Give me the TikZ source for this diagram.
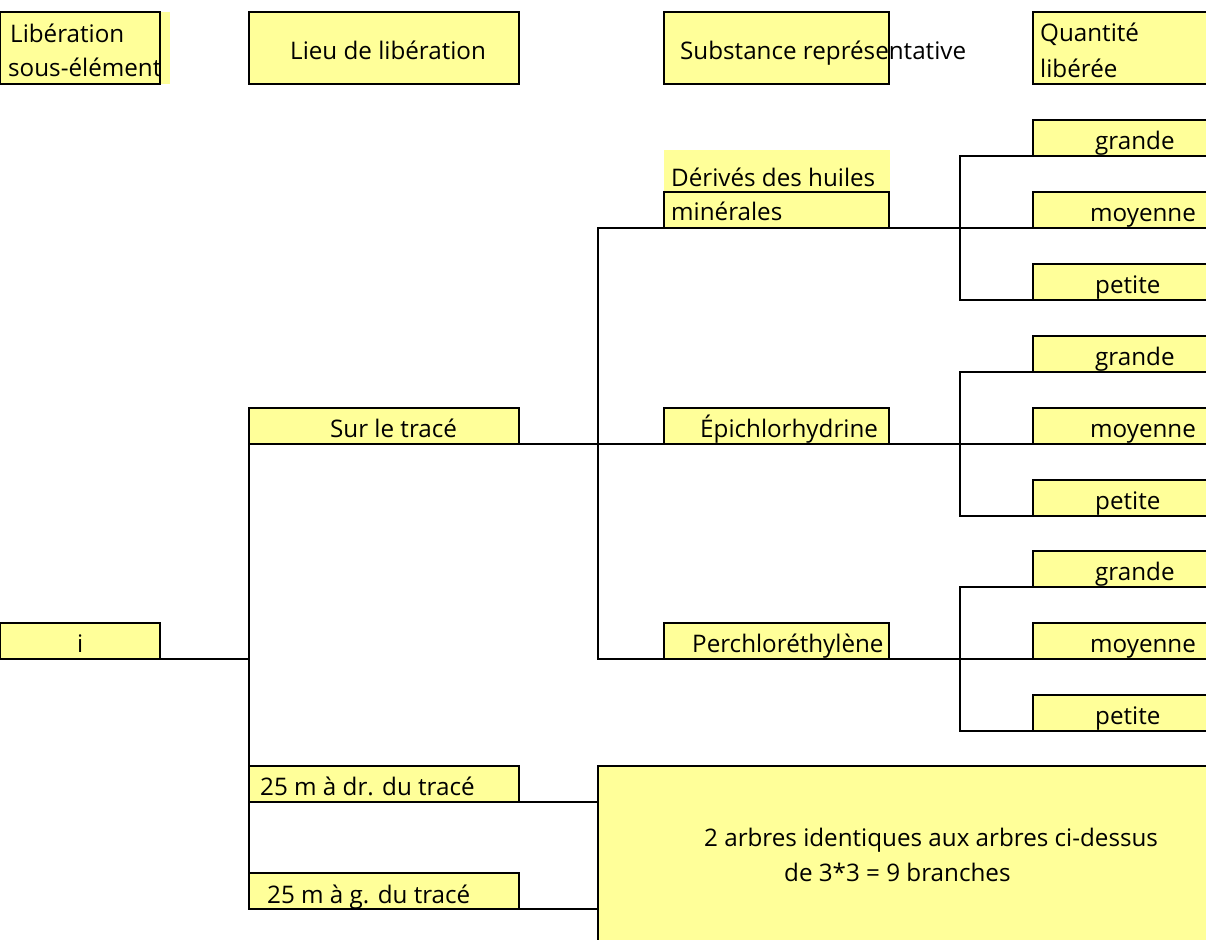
\documentclass[tikz,border=0pt]{standalone}
\usepackage{fontspec}
\setmainfont{Open Sans}
\definecolor{cellyellow}{RGB}{255,255,153}

\begin{document}
\begin{tikzpicture}[x=1pt, y=-1pt,
	cell/.style={rectangle, draw=black, fill=cellyellow, line width=2.2pt, inner sep=0pt, outer sep=0pt, anchor=north west},
	txt/.style={anchor=base west, inner sep=0pt, font=\fontsize{24.2}{35}\selectfont},
	link/.style={draw=black, line width=2.2pt}]
	\useasboundingbox (0,0) rectangle (1206,939);
	\clip (0,0) rectangle (1206,939);
	\fill[cellyellow] (0,12) rectangle (170,84);
	\fill[cellyellow] (664,150) rectangle (890,192);
	
	\node[cell, minimum width=160, minimum height=72] (hsub) at (0,12) {};
	\node[cell, minimum width=270, minimum height=72] (hlieu) at (249,12) {};
	\node[cell, minimum width=225, minimum height=72] (hsubst) at (664,12) {};
	\node[cell, minimum width=190, minimum height=72] (hqte) at (1033,12) {};
	
	\node[cell, minimum width=160, minimum height=36] (i) at (0,623) {};
	\node[cell, minimum width=270, minimum height=36] (sur) at (249,408) {};
	\node[cell, minimum width=270, minimum height=36] (rdr) at (249,766) {};
	\node[cell, minimum width=270, minimum height=36] (gau) at (249,873) {};
	\node[cell, minimum width=225, minimum height=36] (der) at (664,192) {};
	\node[cell, minimum width=225, minimum height=36] (epi) at (664,408) {};
	\node[cell, minimum width=225, minimum height=36] (per) at (664,623) {};
	\node[cell, minimum width=620, minimum height=190] (big) at (598,766) {};
	
	\foreach \s/\t in {der/120, epi/336, per/551} {
		\node[cell, minimum width=190, minimum height=36] (\s-g) at (1033,\t) {};
		\node[cell, minimum width=190, minimum height=36] (\s-m) at (1033,\t+72) {};
		\node[cell, minimum width=190, minimum height=36] (\s-p) at (1033,\t+144) {};
		\node[txt] (\s-tg) at (1095,\t+29) {grande};
		\node[txt] (\s-tm) at (1090,\t+101) {moyenne};
		\node[txt] (\s-tp) at (1095,\t+173) {petite};
		\path[link] (\s.south east) -- (\s-m.south west);
		\path[link] (\s-g.south west) -- ++(-73,0) |- (\s-p.south west);
	}
	
	\path[link] (i.south east) -- (i.south east -| sur.south west);
	\path[link] (sur.south west) -- (gau.south west);
	\path[link] (sur.south east) -- (epi.south west);
	\path[link] (der.south west) -- ++(-66,0) |- (per.south west);
	\path[link] (rdr.south east) -- (rdr.south east -| big.west);
	\path[link] (gau.south east) -- (gau.south east -| big.west);
	
	\node[txt] (thsub1) at (10,43) {Libération};
	\node[txt] (thsub2) at (8,77) {sous-élément};
	\node[txt] (thlieu) at (290,60) {Lieu de libération};
	\node[txt] (thsubst) at (680,60) {Substance représentative};
	\node[txt] (thqte1) at (1040,42) {Quantité};
	\node[txt] (thqte2) at (1040,78) {libérée};
	\node[txt] (ti) at (77,652) {i};
	\node[txt] (tsur) at (330,437) {Sur le tracé};
	\node[txt] (tder1) at (671,186) {Dérivés des huiles};
	\node[txt] (tder2) at (671,220) {minérales};
	\node[txt] (tepi) at (700,437) {Épichlorhydrine};
	\node[txt] (tper) at (692,652) {Perchloréthylène};
	\node[txt] (trdr) at (260,795) {25 m à dr. du tracé};
	\node[txt] (tgau) at (267,903) {25 m à g. du tracé};
	\node[txt] (tbig1) at (704,846) {2 arbres identiques aux arbres ci-dessus};
	\node[txt] (tbig2) at (784,881) {de 3*3 = 9 branches};
\end{tikzpicture}
\end{document}
